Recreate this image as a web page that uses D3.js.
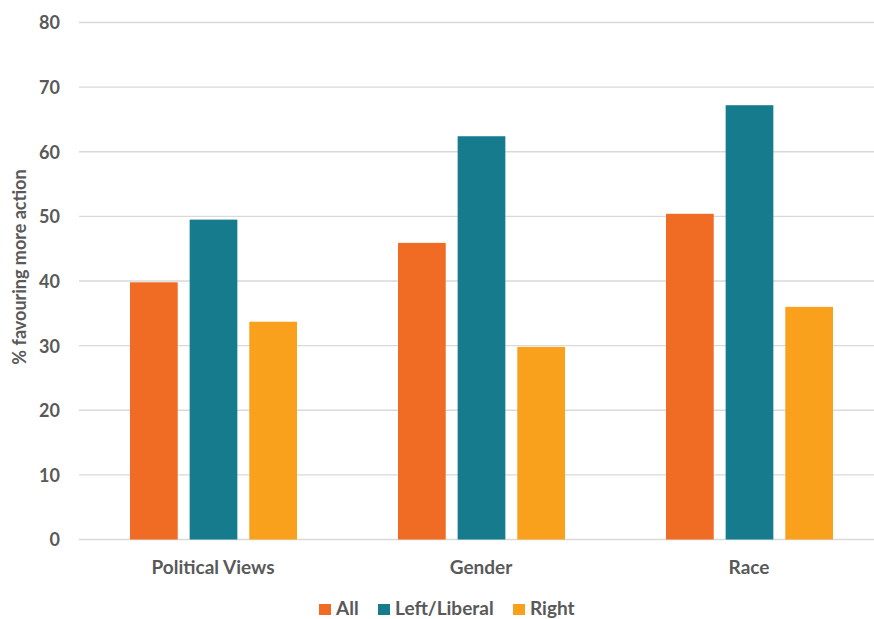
<!DOCTYPE html>
<html>
<head>
<meta charset="utf-8">
<script src="https://cdn.jsdelivr.net/npm/d3@7"></script>
<style>
  html, body { margin: 0; padding: 0; background: #fff; }
  svg { display: block; font-family: Lato, "Open Sans", sans-serif; }
</style>
</head>
<body>
<svg id="chart" width="874" height="619"></svg>
<script>
const categories = ["Political Views", "Gender", "Race"];
const seriesNames = ["All", "Left/Liberal", "Right"];
const allValues = [39.8, 45.9, 50.4];
const leftValues = [49.5, 62.4, 67.2];
const rightValues = [33.7, 29.8, 36.0];
const yTicks = [0, 10, 20, 30, 40, 50, 60, 70, 80];
const colors = ["#F06B23", "#177B8E", "#F9A11D"];

const seriesValues = [allValues, leftValues, rightValues];
const rows = categories.map((c, i) => ({
  category: c,
  values: seriesNames.map((s, j) => ({ series: s, value: seriesValues[j][i], color: colors[j] }))
}));

const svg = d3.select("#chart");
const textColor = "#595959";

const x0 = d3.scaleBand().domain(categories).range([79, 883]).padding(0);
const x1 = d3.scaleBand().domain(seriesNames).range([51, 218]).paddingInner(0.2).paddingOuter(0);
const y = d3.scaleLinear().domain([0, 80]).range([539.5, 22.5]);

// gridlines
svg.append("g")
  .selectAll("line")
  .data(yTicks)
  .join("line")
  .attr("x1", 79).attr("x2", 874)
  .attr("y1", d => y(d)).attr("y2", d => y(d))
  .attr("stroke", "#D9D9D9").attr("stroke-width", 1.4);

// y axis labels
const yAxis = d3.axisLeft(y).tickValues(yTicks).tickSize(0).tickPadding(0);
const yg = svg.append("g").attr("transform", "translate(60,0)").call(yAxis);
yg.select(".domain").remove();
yg.selectAll("text")
  .attr("fill", textColor)
  .style("font-family", "Lato, sans-serif")
  .style("font-size", "18px")
  .style("font-weight", "bold")
  .attr("dy", "0.36em");

// bars
const groups = svg.append("g")
  .selectAll("g")
  .data(rows)
  .join("g")
  .attr("transform", d => `translate(${x0(d.category)},0)`);

groups.selectAll("rect")
  .data(d => d.values)
  .join("rect")
  .attr("x", d => x1(d.series))
  .attr("width", x1.bandwidth())
  .attr("y", d => y(d.value))
  .attr("height", d => y(0) - y(d.value))
  .attr("fill", d => d.color);

// x axis labels
const xAxis = d3.axisBottom(x0).tickSize(0).tickPadding(0);
const xg = svg.append("g").attr("transform", "translate(0,567)").call(xAxis);
xg.select(".domain").remove();
xg.selectAll("text")
  .attr("fill", textColor)
  .attr("dy", "0.36em")
  .style("font-family", "Lato, sans-serif")
  .style("font-size", "19px")
  .style("font-weight", "bold");

// y axis title
svg.append("text")
  .attr("transform", "translate(26,267) rotate(-90)")
  .attr("text-anchor", "middle")
  .attr("fill", textColor)
  .style("font-size", "18px")
  .style("font-weight", "bold")
  .text("% favouring more action");

// legend
const legendX = [319, 378, 513];
const legend = svg.append("g")
  .selectAll("g")
  .data(seriesNames)
  .join("g")
  .attr("transform", (d, i) => `translate(${legendX[i]},0)`);
legend.append("rect")
  .attr("x", 0).attr("y", 604)
  .attr("width", 12).attr("height", 11)
  .attr("fill", (d, i) => colors[i]);
legend.append("text")
  .attr("x", 17).attr("y", 615)
  .attr("fill", textColor)
  .style("font-size", "19px")
  .style("font-weight", "bold")
  .text(d => d);
</script>
</body>
</html>
